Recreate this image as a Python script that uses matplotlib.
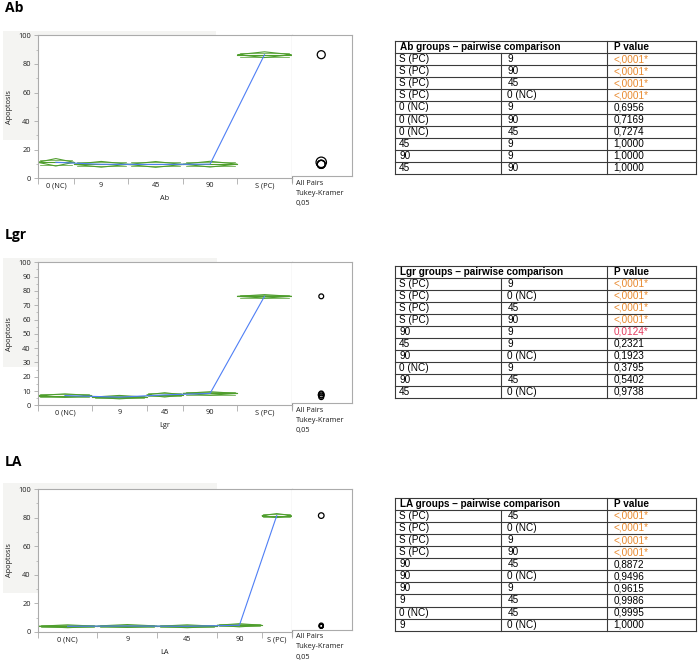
#!/usr/bin/env python3
# Apoptosis by treatment group (means diamonds) + Tukey-Kramer pairwise tables

import numpy as np
import matplotlib.pyplot as plt
from matplotlib.patches import Polygon, Rectangle, Ellipse

plt.rcParams['font.family'] = ['Open Sans', 'DejaVu Sans']

W, H = 698, 662

# ---------- DATA ----------
groups = ["0 (NC)", "9", "45", "90", "S (PC)"]

# group size (sets category width), mean, half width of the 95% CI
ab_n = [2, 3, 3, 3, 3]
ab_mean = [11.2, 9.8, 9.7, 9.9, 86.5]
ab_ci = [2.6, 2.0, 2.0, 2.0, 2.0]

lgr_n = [3, 3, 2, 3, 3]
lgr_mean = [6.8, 5.7, 7.3, 8.3, 76.2]
lgr_ci = [1.2, 1.2, 1.5, 1.2, 1.2]

la_n = [4, 4, 4, 3, 2]
la_mean = [4.0, 4.2, 4.0, 4.7, 81.4]
la_ci = [1.0, 1.0, 1.0, 1.1, 1.4]

# pairwise comparison tables
ab_g1 = ["S (PC)", "S (PC)", "S (PC)", "S (PC)", "0 (NC)", "0 (NC)", "0 (NC)", "45", "90", "45"]
ab_g2 = ["9", "90", "45", "0 (NC)", "9", "90", "45", "9", "9", "90"]
ab_p = ["<,0001*", "<,0001*", "<,0001*", "<,0001*", "0,6956", "0,7169", "0,7274",
        "1,0000", "1,0000", "1,0000"]

lgr_g1 = ["S (PC)", "S (PC)", "S (PC)", "S (PC)", "90", "45", "90", "0 (NC)", "90", "45"]
lgr_g2 = ["9", "0 (NC)", "45", "90", "9", "9", "0 (NC)", "9", "45", "0 (NC)"]
lgr_p = ["<,0001*", "<,0001*", "<,0001*", "<,0001*", "0,0124*", "0,2321", "0,1923",
         "0,3795", "0,5402", "0,9738"]

la_g1 = ["S (PC)", "S (PC)", "S (PC)", "S (PC)", "90", "90", "90", "9", "0 (NC)", "9"]
la_g2 = ["45", "0 (NC)", "9", "90", "45", "0 (NC)", "9", "45", "45", "0 (NC)"]
la_p = ["<,0001*", "<,0001*", "<,0001*", "<,0001*", "0,8872", "0,9496", "0,9615",
        "0,9986", "0,9995", "1,0000"]

# ---------- LAYOUT (pixels) ----------
X0, XS, XR = 37.7, 291.7, 352.0
TL, TC1, TC2, TR = 395.0, 501.3, 607.3, 695.7
GREEN = '#4f9e2d'
BLUE = '#4f7ff5'
SPINE = '#ababab'
ORANGE = '#e8892e'
RED = '#e23a5e'

fig = plt.figure(figsize=(W/100, H/100), dpi=100)
ax_bg = fig.add_axes([0, 0, 1, 1], zorder=-10)
ax_bg.set_xlim(0, W)
ax_bg.set_ylim(H, 0)
ax_bg.axis('off')


def draw_plot(name, n, mean, ci, title_y, top, bot, ystep, bg):
    ax_bg.add_patch(Rectangle((bg[0], bg[1]), bg[2]-bg[0], bg[3]-bg[1],
                              color='#f4f4f2', lw=0))
    ax_bg.text(5, title_y, name, fontsize=10, fontweight='bold', va='center', ha='left')

    ax = fig.add_axes([X0/W, 1-bot/H, (XS-X0)/W, (bot-top)/H])
    edges = np.concatenate([[0], np.cumsum(n)])
    centers = (edges[:-1] + edges[1:]) / 2
    for i in range(len(n)):
        l, r, c, m, h = edges[i], edges[i+1], centers[i], mean[i], ci[i]
        ax.add_patch(Polygon([(l, m), (c, m+h), (r, m), (c, m-h)], closed=True,
                             fill=False, ec=GREEN, lw=0.8))
        ax.plot([l, r], [m, m], color=GREEN, lw=0.8)
        for s in (1, -1):
            yo = m + s*h/np.sqrt(2)
            ax.plot([l + 0.1*(c-l), r - 0.1*(r-c)], [yo, yo], color=GREEN, lw=0.5)
    ax.plot(centers, mean, color=BLUE, lw=0.8, zorder=3)

    ax.set_xlim(0, edges[-1])
    ax.set_ylim(0, 100)
    ax.set_yticks(np.arange(0, 101, ystep))
    ax.set_yticks(np.arange(ystep/2, 100, ystep), minor=True)
    ax.set_xticks(centers, groups)
    ax.set_xticks(edges, minor=True)
    ax.tick_params(axis='x', which='major', length=0, pad=3, labelsize=5.3, labelcolor='#1e1e1e')
    ax.tick_params(axis='x', which='minor', length=4, width=0.6, color=SPINE)
    ax.tick_params(axis='y', which='major', length=3, width=0.6, color=SPINE, pad=2,
                   labelsize=5.3, labelcolor='#1e1e1e')
    ax.tick_params(axis='y', which='minor', length=1.5, width=0.5, color=SPINE)
    for sp in ax.spines.values():
        sp.set_color(SPINE)
        sp.set_linewidth(0.8)
    ax.spines['right'].set_color('#8c8c8c')
    ax.set_xlabel(name, fontsize=5.3, color='#1e1e1e', labelpad=4)
    ax.set_ylabel('Apoptosis', fontsize=5.3, color='#1e1e1e')
    ax.yaxis.set_label_coords((13 - X0)/(XS - X0), 0.5)

    # comparison circles panel
    bot_r = bot - 2
    ppu = (bot - top) / 100
    axr = fig.add_axes([XS/W, 1-bot_r/H, (XR-XS)/W, (bot_r-top)/H])
    axr.set_xlim(0, 1)
    axr.set_ylim((bot - bot_r)/ppu, 100)
    axr.set_xticks([])
    axr.set_yticks([])
    for sp in axr.spines.values():
        sp.set_color(SPINE)
        sp.set_linewidth(0.8)
    axr.spines['left'].set_visible(False)
    for m, h in zip(mean, ci):
        r = 1.4 * h
        axr.add_patch(Ellipse((0.49, m), 2*r*ppu/(XR-XS), 2*r, fill=False,
                              ec='black', lw=0.9))
    ax_bg.plot([XS, XS], [bot, bot + 4], color='#8c8c8c', lw=0.8)
    for dy, t in zip([5, 15, 25], ["All Pairs", "Tukey-Kramer", "0,05"]):
        ax_bg.text(296, bot + dy, t, fontsize=5.3, va='center', ha='left', color='#1e1e1e')


def draw_table(name, g1, g2, pv, ttop, tbot):
    nrow = len(g1) + 1
    rh = (tbot - ttop) / nrow
    kw = dict(color='#3a3a3a', lw=0.8)
    for k in range(nrow + 1):
        y = ttop + k*rh
        ax_bg.plot([TL, TR], [y, y], **kw)
    ax_bg.plot([TL, TL], [ttop, tbot], **kw)
    ax_bg.plot([TR, TR], [ttop, tbot], **kw)
    ax_bg.plot([TC2, TC2], [ttop, tbot], **kw)
    ax_bg.plot([TC1, TC1], [ttop + rh, tbot], **kw)
    tf = dict(family=['Liberation Sans', 'DejaVu Sans'], va='center', ha='left')
    ax_bg.text(TL + 5, ttop + rh/2, name + " groups \u2013 pairwise comparison",
               fontsize=7.2, fontweight='bold', **tf)
    ax_bg.text(TC2 + 7, ttop + rh/2, "P value", fontsize=7.2, fontweight='bold', **tf)
    for k in range(len(g1)):
        y = ttop + (k + 1.5)*rh
        ax_bg.text(TL + 4, y, g1[k], fontsize=7.2, **tf)
        ax_bg.text(TC1 + 6, y, g2[k], fontsize=7.2, **tf)
        if pv[k].startswith('<'):
            col = ORANGE
        elif pv[k].endswith('*'):
            col = RED
        else:
            col = 'black'
        ax_bg.text(TC2 + 6, y, pv[k], fontsize=7.2, color=col, **tf)


draw_plot("Ab", ab_n, ab_mean, ab_ci, 8.5, 35.4, 178.3, 20, (3, 31, 216, 140))
draw_plot("Lgr", lgr_n, lgr_mean, lgr_ci, 235, 262.3, 405.3, 10, (3, 258, 217, 367))
draw_plot("LA", la_n, la_mean, la_ci, 461.7, 489, 632, 20, (3, 483, 217, 593))

draw_table("Ab", ab_g1, ab_g2, ab_p, 41, 174)
draw_table("Lgr", lgr_g1, lgr_g2, lgr_p, 265.7, 397.7)
draw_table("LA", la_g1, la_g2, la_p, 497.7, 630.7)

fig.savefig("out.png", dpi=100)
